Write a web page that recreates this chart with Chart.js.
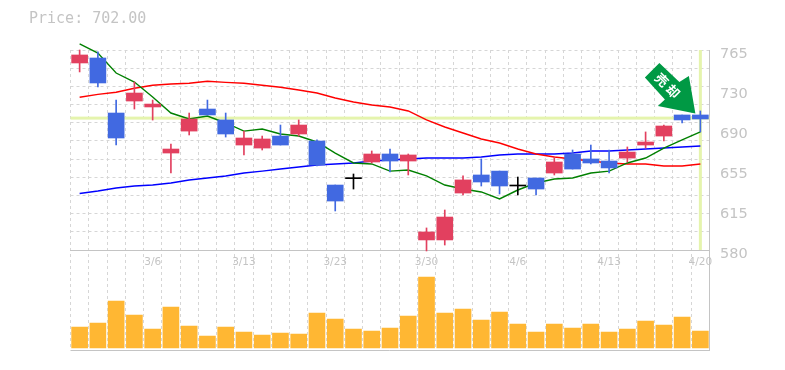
<!DOCTYPE html>
<html>
<head>
<meta charset="utf-8">
<title>Price chart</title>
<script src="https://cdn.jsdelivr.net/npm/chart.js@4/dist/chart.umd.min.js"></script>
<style>
  body { margin: 0; background: #fff; }
  #wrap { position: relative; width: 785px; height: 370px; }
  #price { position: absolute; left: 29px; top: 9px; font: 15px 'DejaVu Sans Mono', monospace; color: #c4c4c4; }
</style>
</head>
<body>
<div id="wrap">
  <div id="price">Price: 702.00</div>
  <canvas id="chart" width="785" height="370"></canvas>
</div>
<script>
const dates = ['3/2','3/3','3/4','3/5','3/6','3/9','3/10','3/11','3/12','3/13','3/16','3/17','3/18','3/19','3/23','3/24','3/25','3/26','3/27','3/30','3/31','4/1','4/2','4/3','4/6','4/7','4/8','4/9','4/10','4/13','4/14','4/15','4/16','4/17','4/20'];
const shownDates = ['3/6','3/13','3/23','3/30','4/6','4/13','4/20'];

const opens  = [753,757.6,706.7,717.8,712.3,669.7,690,710.4,700.3,677.1,674.3,685.4,687.3,680.8,640.1,646,661.4,668.8,662.3,589.3,589.3,632.7,649.4,653,639.2,646.6,651.2,668.8,664.2,662.3,665,677.1,685.4,704.9,704.9];
const closes = [760.4,734.5,683.6,725.2,715,673.4,701.2,704.9,687.3,683.6,682.7,677.1,695.6,658.6,625.3,646,668.8,662.3,667.9,596.7,610.5,644.8,642.9,639.2,639.2,636.4,661.4,654.9,660.5,655.9,670.6,679.9,694.7,700.3,701.2];
const highs  = [765,763.2,718.7,735.4,718.7,678,706.7,718.7,706.7,690,685.4,695.6,700.3,681.8,640.1,650.3,671.6,673.4,668.8,600.4,617,648.5,664.2,653,647.5,646.6,666,672.5,677.1,672.5,675.3,689.2,695.6,704.9,708.6];
const lows   = [744.7,730.8,677.1,710.4,700.2,651.2,686.4,704.9,684.5,667.9,672.5,677.1,685.4,657.7,616.1,636.4,660.5,652.2,649.4,579.1,584.6,630.9,639.2,631.8,630.9,630.9,649.4,654.9,659.6,651.2,661.4,674.3,680.8,697.5,689.2];

const maShort = [770.6,762.2,743.7,735.4,721.5,706.7,701.2,703.9,697.5,690,691.9,687.3,685.4,679.9,669.7,660.5,659.6,653,654,648.5,640.1,636.4,633.7,627.2,635.5,642,645.7,646.6,651.2,653,660.5,665.1,674.3,681.8,689.2];
const maMid   = [721.3,724,725.9,729.6,732.4,733.6,734.2,736.1,735.1,734.2,732.4,730.5,728,725.2,720.6,716.9,714.1,712.3,708.6,700.3,693.8,688.2,682.7,679,673.4,668.8,666,664.2,662.3,660.5,659.6,659.6,657.7,657.7,659.6];
const maLong  = [632.3,634.6,637.4,639.2,640.1,642,644.8,646.6,648.5,651.2,653,654.9,656.8,658.6,659.6,660.5,662.3,663.3,664.2,665.1,665.1,665.1,666,667.9,668.8,668.8,668.8,669.7,671.6,671.6,672.5,673.4,674.3,675.3,676.2];

const volumes = [21,25,47,33,19,41,22,12,21,16,13,15,14,35,29,19,17,20,32,71,35,39,28,36,24,16,24,20,24,16,19,27,23,31,17];

const priceTicks = [580,617,654,691,728,765];
const priceLabels = ['580','615','655','690','730','765'];
const lastPrice = 702;

const RED = '#e2405f';
const BLUE = '#4169e1';
const ORANGE = '#ffb733';
const GRID = '#d6d6d6';
const AXIS = '#c4c4c4';
const HILITE = '#e5f4ad';
const ARROW = '#009944';
const TEXT = '#c4c4c4';
const SANS = "'DejaVu Sans', sans-serif";

// horizontal grid has 11 divisions and does not line up with the price labels
const GRID_DIVS = 11;
const gridValues = [];
for (let i = 0; i <= GRID_DIVS; i++) gridValues.push(580 + i * 185 / GRID_DIVS);

function candleColor(i) {
  if (opens[i] === closes[i]) return '#000';
  return closes[i] > opens[i] ? RED : BLUE;
}
const candleColors = dates.map(function (d, i) { return candleColor(i); });

function maLine(data, color, width) {
  return { type: 'line', data: data, borderColor: color, borderWidth: width, pointRadius: 0, tension: 0, yAxisID: 'y', order: 5, clip: false };
}

// last price crosshair and the arrow pointing at the last candle
const overlay = {
  id: 'overlay',
  beforeDatasetsDraw(chart) {
    const c = chart.ctx;
    const x = chart.scales.x.getPixelForValue(dates.length - 1);
    const y = chart.scales.y;
    const py = y.getPixelForValue(lastPrice);
    c.save();
    c.fillStyle = HILITE;
    c.fillRect(chart.chartArea.left, py - 1.5, chart.chartArea.width, 3);
    c.fillRect(x - 1.5, y.top, 3, y.height);
    c.restore();
  },
  afterDatasetsDraw(chart) {
    const c = chart.ctx;
    const tx = chart.scales.x.getPixelForValue(dates.length - 1) - 5;
    const ty = chart.scales.y.getPixelForValue(lastPrice) - 4.5;
    const shape = [[0,0],[-37.5,-7.5],[-30.5,-14],[-50.5,-36],[-36,-50.5],[-16,-31.5],[-6.5,-37.5]];
    c.save();
    c.translate(tx, ty);
    c.fillStyle = ARROW;
    c.beginPath();
    shape.forEach(function (p, i) { if (i) c.lineTo(p[0], p[1]); else c.moveTo(p[0], p[1]); });
    c.closePath();
    c.fill();
    c.fillStyle = '#fff';
    c.font = "bold 13px 'Noto Sans CJK JP'";
    c.textAlign = 'center';
    c.textBaseline = 'middle';
    c.translate(-28, -28);
    c.rotate(Math.PI / 4);
    c.fillText('売', -8, 0);
    c.fillText('却', 8, 0);
    c.restore();
  },
};

new Chart(document.getElementById('chart'), {
  data: {
    labels: dates,
    datasets: [
      { type: 'bar', data: dates.map(function (d, i) { return [opens[i], closes[i]]; }), backgroundColor: candleColors, barThickness: 16, minBarLength: 1, grouped: false, yAxisID: 'y', order: 1, clip: false },
      { type: 'bar', data: dates.map(function (d, i) { return [lows[i], highs[i]]; }), backgroundColor: candleColors, barThickness: 1, grouped: false, yAxisID: 'y', order: 2, clip: false },
      { type: 'bar', data: volumes, backgroundColor: ORANGE, barThickness: 16, grouped: false, yAxisID: 'vol', order: 3 },
      maLine(maShort, '#008000', 1.4),
      maLine(maMid, '#ff0000', 1.4),
      maLine(maLong, '#0000ff', 1.4),
    ],
  },
  options: {
    responsive: false,
    animation: false,
    events: [],
    layout: { padding: { top: 50, right: 0, bottom: 20, left: 70.5 } },
    plugins: { legend: { display: false }, tooltip: { enabled: false }, title: { display: false } },
    scales: {
      x: {
        type: 'category',
        position: { y: 580 },
        offset: true,
        grid: { offset: true, color: GRID, drawTicks: false },
        border: { color: AXIS, dash: [3, 3] },
        ticks: {
          autoSkip: false, maxRotation: 0, padding: 6, color: TEXT, font: { family: SANS, size: 10.5 },
          callback: function (v) { const d = this.getLabelForValue(v); return shownDates.includes(d) ? d : ''; },
        },
      },
      y: {
        position: 'right',
        stack: 'panels',
        stackWeight: 2,
        min: 580,
        max: 765,
        afterFit: function (s) { s.width = 75.5; },
        afterBuildTicks: function (s) {
          const vals = gridValues.concat(priceTicks.filter(function (v) { return v !== 580 && v !== 765; }));
          s.ticks = vals.sort(function (a, b) { return a - b; }).map(function (v) { return { value: v }; });
        },
        grid: {
          drawTicks: false,
          color: function (ctx) {
            return ctx.tick && gridValues.includes(ctx.tick.value) ? GRID : 'rgba(0,0,0,0)';
          },
        },
        border: { color: AXIS, dash: [3, 3] },
        ticks: {
          autoSkip: false, padding: 10.5, labelOffset: 4, color: TEXT, font: { family: SANS, size: 14.5 },
          callback: function (v) { const i = priceTicks.indexOf(v); return i >= 0 ? priceLabels[i] : ''; },
        },
      },
      vol: {
        position: 'right',
        stack: 'panels',
        stackWeight: 1,
        min: -2,
        max: 98,
        afterFit: function (s) { s.width = 75.5; },
        afterBuildTicks: function (s) { s.ticks = [{ value: -2 }]; },
        grid: { color: AXIS, drawTicks: false },
        border: { color: AXIS },
        ticks: { display: false },
      },
    },
  },
  plugins: [overlay],
});
</script>
</body>
</html>
